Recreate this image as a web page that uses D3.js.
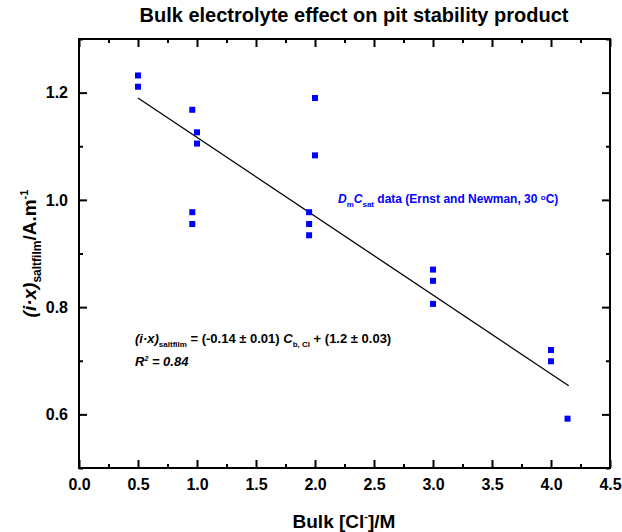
<!DOCTYPE html>
<html>
<head>
<meta charset="utf-8">
<script src="https://cdn.jsdelivr.net/npm/d3@7"></script>
<style>
  body { margin: 0; background: #fff; }
  svg text { font-family: "Liberation Sans", Arial, sans-serif; font-weight: bold; }
</style>
</head>
<body>
<svg id="drawing_region"></svg>
<script>
// measured values (Ernst and Newman data)
const concX = [0.5, 0.5, 0.96, 1.0, 1.0, 0.96, 0.96, 2.0, 2.0, 1.95, 1.95, 1.95, 3.0, 3.0, 3.0, 4.0, 4.0, 4.14];
const ixVals = [1.232, 1.211, 1.168, 1.126, 1.105, 0.977, 0.955, 1.190, 1.083, 0.977, 0.955, 0.934, 0.870, 0.849, 0.806, 0.720, 0.699, 0.592];

// fitted line as drawn
const fitX = [0.5, 4.15];
const fitSlope = -0.147;
const fitIntercept = 1.2635;

const xTicks = [0, 0.5, 1.0, 1.5, 2.0, 2.5, 3.0, 3.5, 4.0, 4.5];
const xMinor = [0.25, 0.75, 1.25, 1.75, 2.25, 2.75, 3.25, 3.75, 4.25];
const yTicks = [0.6, 0.8, 1.0, 1.2];
const yMinor = [0.5, 0.7, 0.9, 1.1, 1.3];

const config = { width: 622, height: 532, left: 79, right: 610, top: 39, bottom: 468 };

const svg = d3.select('#drawing_region')
    .attr('width', config.width)
    .attr('height', config.height);

const x = d3.scaleLinear().domain([0, 4.5]).range([config.left, config.right]);
const y = d3.scaleLinear().domain([0.5, 1.3]).range([config.bottom, config.top]);

// title
svg.append('text')
    .attr('x', 354).attr('y', 22)
    .attr('text-anchor', 'middle')
    .style('font-size', '20px')
    .text('Bulk electrolyte effect on pit stability product');

// axes with inward ticks
function styleAxis(g, labels) {
    g.select('.domain').remove();
    g.selectAll('.tick line').attr('stroke', '#000').attr('stroke-width', 2);
    g.selectAll('.tick text').style('font-size', '16px').attr('fill', '#000');
    if (!labels) g.selectAll('.tick text').remove();
}

svg.append('g').attr('transform', `translate(0,${config.bottom})`)
    .call(d3.axisBottom(x).tickValues(xTicks).tickFormat(d3.format('.1f')).tickSize(-8).tickPadding(11))
    .call(g => styleAxis(g, true));
svg.append('g').attr('transform', `translate(0,${config.bottom})`)
    .call(d3.axisBottom(x).tickValues(xMinor).tickSize(-4))
    .call(g => styleAxis(g, false));
svg.append('g').attr('transform', `translate(0,${config.top})`)
    .call(d3.axisTop(x).tickValues(xTicks).tickSize(-8))
    .call(g => styleAxis(g, false));
svg.append('g').attr('transform', `translate(0,${config.top})`)
    .call(d3.axisTop(x).tickValues(xMinor).tickSize(-4))
    .call(g => styleAxis(g, false));

svg.append('g').attr('transform', `translate(${config.left},0)`)
    .call(d3.axisLeft(y).tickValues(yTicks).tickFormat(d3.format('.1f')).tickSize(-8).tickPadding(11))
    .call(g => styleAxis(g, true));
svg.append('g').attr('transform', `translate(${config.left},0)`)
    .call(d3.axisLeft(y).tickValues(yMinor).tickSize(-4))
    .call(g => styleAxis(g, false));
svg.append('g').attr('transform', `translate(${config.right},0)`)
    .call(d3.axisRight(y).tickValues(yTicks).tickSize(-8))
    .call(g => styleAxis(g, false));
svg.append('g').attr('transform', `translate(${config.right},0)`)
    .call(d3.axisRight(y).tickValues(yMinor).tickSize(-4))
    .call(g => styleAxis(g, false));

// frame
svg.append('rect')
    .attr('x', config.left).attr('y', config.top)
    .attr('width', config.right - config.left)
    .attr('height', config.bottom - config.top)
    .attr('fill', 'none').attr('stroke', '#000').attr('stroke-width', 2);

// fit line
svg.append('line')
    .attr('x1', x(fitX[0])).attr('y1', y(fitIntercept + fitSlope * fitX[0]))
    .attr('x2', x(fitX[1])).attr('y2', y(fitIntercept + fitSlope * fitX[1]))
    .attr('stroke', '#000').attr('stroke-width', 1.3);

// data points
svg.selectAll('rect.pt')
    .data(concX.map((d, i) => ({ x: d, y: ixVals[i] })))
    .enter()
    .append('rect')
    .attr('class', 'pt')
    .attr('x', d => x(d.x) - 3)
    .attr('y', d => y(d.y) - 3)
    .attr('width', 6).attr('height', 6)
    .attr('fill', '#0000ff');

// legend text
const leg = svg.append('text')
    .attr('x', 338).attr('y', 203)
    .attr('fill', '#0000ff')
    .style('font-size', '12px');
leg.append('tspan').style('font-style', 'italic').text('D');
leg.append('tspan').attr('dy', 4).style('font-size', '8px').text('m');
leg.append('tspan').attr('dy', -4).style('font-style', 'italic').text('C');
leg.append('tspan').attr('dy', 4).style('font-size', '8px').text('sat');
leg.append('tspan').attr('dy', -4).text(' data (Ernst and Newman, 30 ');
leg.append('tspan').attr('dy', -3).style('font-size', '8px').text('o');
leg.append('tspan').attr('dy', 3).text('C)');

// equation
const eq = svg.append('text')
    .attr('x', 135).attr('y', 343)
    .style('font-size', '13px');
eq.append('tspan').style('font-style', 'italic').text('(i·x)');
eq.append('tspan').attr('dy', 4).style('font-size', '8px').text('saltfilm');
eq.append('tspan').attr('dy', -4).text(' = (-0.14 ± 0.01)  ');
eq.append('tspan').style('font-style', 'italic').text('C');
eq.append('tspan').attr('dy', 4).style('font-size', '8px').text('b, Cl');
eq.append('tspan').attr('dy', -4).text(' + (1.2 ± 0.03)');

const r2 = svg.append('text')
    .attr('x', 135).attr('y', 366)
    .style('font-size', '13px')
    .style('font-style', 'italic');
r2.append('tspan').text('R');
r2.append('tspan').attr('dy', -5).style('font-size', '7px').text('2');
r2.append('tspan').attr('dy', 5).text(' = 0.84');

// x axis title
const xt = svg.append('text')
    .attr('x', 344).attr('y', 528)
    .attr('text-anchor', 'middle')
    .style('font-size', '19px');
xt.append('tspan').text('Bulk [Cl');
xt.append('tspan').attr('dy', -8).style('font-size', '11px').text('-');
xt.append('tspan').attr('dy', 8).text(']/M');

// y axis title
const yt = svg.append('text')
    .attr('transform', `translate(36,${(config.top + config.bottom) / 2}) rotate(-90)`)
    .attr('text-anchor', 'middle')
    .style('font-size', '19px');
yt.append('tspan').style('font-style', 'italic').text('(i·x)');
yt.append('tspan').attr('dy', 5).style('font-size', '12px').text('saltfilm');
yt.append('tspan').attr('dy', -5).text('/A.m');
yt.append('tspan').attr('dy', -8).style('font-size', '11px').text('-1');
</script>
</body>
</html>
